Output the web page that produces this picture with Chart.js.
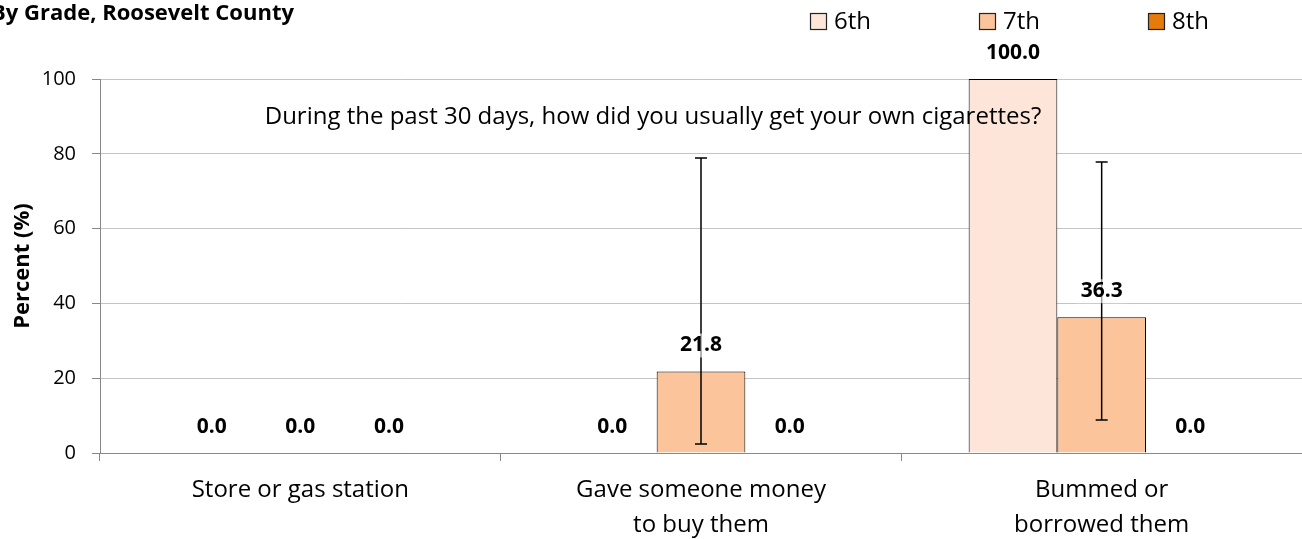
<!DOCTYPE html>
<html>
<head>
<meta charset="utf-8">
<script src="https://cdn.jsdelivr.net/npm/chart.js@4"></script>
<style>
  html, body { margin: 0; padding: 0; background: #fff; }
  #wrap { width: 1302px; height: 539px; }
</style>
</head>
<body>
<div id="wrap"><canvas id="gradeChart"></canvas></div>
<script>
// categories and values
const categories = [['Store or gas station'], ['Gave someone money', 'to buy them'], ['Bummed or', 'borrowed them']];
const grades = ['6th', '7th', '8th'];
const grade6 = [0.0, 0.0, 100.0];
const grade7 = [0.0, 21.8, 36.3];
const grade8 = [0.0, 0.0, 0.0];
// confidence intervals (low, high), null where none is drawn
const err6 = [null, null, null];
const err7 = [null, [2.4, 78.9], [8.8, 77.8]];
const err8 = [null, null, null];
const yTicks = [0, 20, 40, 60, 80, 100];

const colors = ['#FDE6D9', '#FBC49A', '#E47B0C'];
const FONT = "'Open Sans', 'DejaVu Sans', sans-serif";

const extras = {
  id: 'extras',
  afterDatasetsDraw(chart) {
    const ctx = chart.ctx;
    const y = chart.scales.y;
    ctx.save();
    // error bars
    chart.data.datasets.forEach((ds, di) => {
      const meta = chart.getDatasetMeta(di);
      ds.errors.forEach((e, i) => {
        if (!e) return;
        const x = meta.data[i].x;
        const y1 = y.getPixelForValue(e[0]);
        const y2 = y.getPixelForValue(e[1]);
        ctx.strokeStyle = '#000';
        ctx.lineWidth = 1.5;
        ctx.beginPath();
        ctx.moveTo(x, y1); ctx.lineTo(x, y2);
        ctx.moveTo(x - 6, y1); ctx.lineTo(x + 6, y1);
        ctx.moveTo(x - 6, y2); ctx.lineTo(x + 6, y2);
        ctx.stroke();
      });
    });
    // value labels
    ctx.font = "bold 21px " + FONT;
    ctx.textAlign = 'center';
    ctx.textBaseline = 'middle';
    chart.data.datasets.forEach((ds, di) => {
      const meta = chart.getDatasetMeta(di);
      ds.data.forEach((v, i) => {
        const bar = meta.data[i];
        const txt = v.toFixed(1);
        const ty = bar.y - 26;
        const w = ctx.measureText(txt).width;
        ctx.fillStyle = 'rgba(255,255,255,0.6)';
        ctx.fillRect(bar.x - w / 2 - 4, ty - 12, w + 8, 24);
        ctx.fillStyle = '#000';
        ctx.fillText(txt, bar.x, ty);
      });
    });
    // question text inside the plot
    ctx.font = "24px " + FONT;
    ctx.fillStyle = '#000';
    ctx.fillText('During the past 30 days, how did you usually get your own cigarettes?', 653, 117);
    // title, clipped at the left edge as in the original
    ctx.font = "bold 22px " + FONT;
    ctx.textAlign = 'left';
    ctx.fillText('By Grade, Roosevelt County', -9, 14);
    // legend
    const lx = [810, 979, 1148];
    ctx.font = "24px " + FONT;
    grades.forEach((g, i) => {
      ctx.fillStyle = colors[i];
      ctx.fillRect(lx[i], 13, 17, 17);
      ctx.strokeStyle = '#222';
      ctx.lineWidth = 1.2;
      ctx.strokeRect(lx[i] + 0.5, 13.5, 16, 16);
      ctx.fillStyle = '#000';
      ctx.fillText(g, lx[i] + 24, 22);
    });
    ctx.restore();
  }
};

const grade_data = {
  labels: categories,
  datasets: [grade6, grade7, grade8].map((d, i) => ({
    label: grades[i],
    data: d,
    errors: [err6, err7, err8][i],
    backgroundColor: colors[i],
    borderColor: '#000',
    borderWidth: 1,
    categoryPercentage: 0.664,
    barPercentage: 1.0
  }))
};

const grade_config = {
  type: 'bar',
  data: grade_data,
  options: {
    responsive: true,
    maintainAspectRatio: false,
    animation: false,
    layout: { padding: { top: 79, right: 0, bottom: 0, left: 0 } },
    plugins: {
      legend: { display: false },
      title: { display: false },
      tooltip: { enabled: false }
    },
    scales: {
      x: {
        grid: { drawOnChartArea: false, drawTicks: true, tickLength: 8, color: '#888' },
        border: { display: true, color: '#888', width: 1 },
        ticks: { color: '#000', font: { family: FONT, size: 24, lineHeight: 1.46 }, padding: 12, maxRotation: 0 },
        afterFit(scale) { scale.height = 86; }
      },
      y: {
        min: 0,
        max: 100,
        afterBuildTicks(scale) { scale.ticks = yTicks.map(v => ({ value: v })); },
        grid: { color: '#c4c4c4', tickColor: '#888', tickLength: 8, drawTicks: true },
        border: { display: true, color: '#888', width: 1 },
        ticks: { color: '#000', font: { family: FONT, size: 20 }, padding: 16 },
        title: { display: true, text: 'Percent (%)', color: '#000', font: { family: FONT, size: 22, weight: 'bold' }, padding: { top: 10, bottom: 0 } },
        afterFit(scale) { scale.width = 100; }
      }
    }
  },
  plugins: [extras]
};

const grade_chart = new Chart(document.getElementById('gradeChart'), grade_config);
</script>
</body>
</html>
